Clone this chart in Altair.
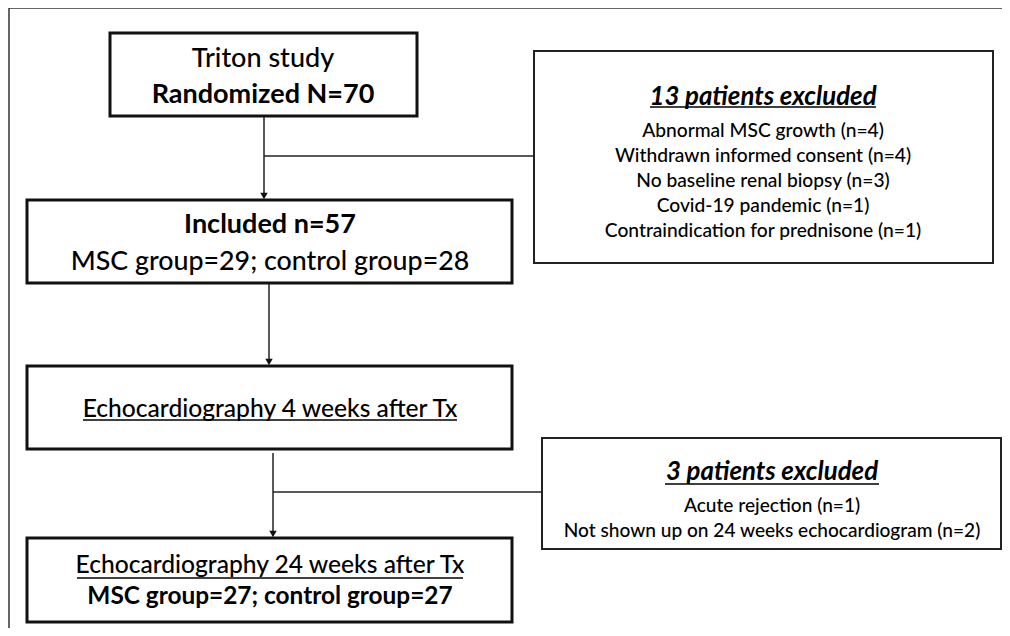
import altair as alt
import pandas as pd

# ---- boxes (pixel layout of the flow diagram) ----
box_names = ["randomized", "included", "echo4", "echo24", "excl13", "excl3"]
box_x1 = [110, 27, 27, 27, 534, 542]
box_x2 = [417, 512, 512, 512, 993, 1001]
box_y1 = [33, 200, 366, 538, 51, 438]
box_y2 = [116, 283, 449, 622, 263, 549]
box_kind = ["main", "main", "main", "main", "side", "side"]

# ---- connectors ----
line_x1 = [264, 264, 269, 273, 273]
line_x2 = [264, 534, 269, 273, 542]
line_y1 = [116, 156, 283, 453, 492]
line_y2 = [196, 156, 362, 534, 492]
arrow_x = [264, 269, 273]
arrow_y = [196, 362, 534]

# ---- frame ----
frame_x1 = [9, 9]
frame_x2 = [1002, 9]
frame_y1 = [8, 8]
frame_y2 = [8, 628]

# ---- texts ----
texts = [
    "Triton study",
    "Randomized N=70",
    "Included n=57",
    "MSC group=29; control group=28",
    "13 patients excluded",
    "Abnormal MSC growth (n=4)",
    "Withdrawn informed consent (n=4)",
    "No baseline renal biopsy (n=3)",
    "Covid-19 pandemic (n=1)",
    "Contraindication for prednisone (n=1)",
    "Echocardiography 4 weeks after Tx",
    "3 patients excluded",
    "Acute rejection (n=1)",
    "Not shown up on 24 weeks echocardiogram (n=2)",
    "Echocardiography 24 weeks after Tx",
    "MSC group=27; control group=27",
]
text_x = [263, 263, 270, 270, 763, 763, 763, 763, 763, 763, 270, 772, 772, 772, 270, 270]
text_y = [67, 103, 233, 270, 105, 137, 162, 187, 212, 237, 417, 480, 512, 537, 573, 604]
text_size = [27, 27, 27, 26.8, 25.8, 19.2, 19.2, 19.2, 19.2, 19.2, 24.6, 25.8, 19.1, 19.1, 24.6, 24.4]
text_style = ["reg", "bold", "bold", "reg", "title", "reg", "reg", "reg",
              "reg", "reg", "reg", "title", "reg", "reg", "reg", "bold"]

# ---- underlines ----
ul_x1 = [650, 665, 83, 77]
ul_x2 = [876, 879, 457, 463]
ul_y = [107, 484, 420, 578]

boxes = pd.DataFrame({"name": box_names, "x1": box_x1, "x2": box_x2,
                      "y1": box_y1, "y2": box_y2, "kind": box_kind})
lines = pd.DataFrame({"x1": line_x1, "x2": line_x2, "y1": line_y1, "y2": line_y2})
arrows = pd.DataFrame({"x": arrow_x, "y": arrow_y})
frame = pd.DataFrame({"x1": frame_x1, "x2": frame_x2, "y1": frame_y1, "y2": frame_y2})
tdf = pd.DataFrame({"text": texts, "x": text_x, "y": text_y,
                    "size": text_size, "style": text_style})
uls = pd.DataFrame({"x1": ul_x1, "x2": ul_x2, "y": ul_y})

W, H = 994, 620
xs = alt.Scale(domain=[8, 1002], nice=False, zero=False)
ys = alt.Scale(domain=[8, 628], nice=False, zero=False, reverse=True)
X = lambda f: alt.X(f, type="quantitative", scale=xs, axis=None)
Y = lambda f: alt.Y(f, type="quantitative", scale=ys, axis=None)

FONT = "Lato"

frame_l = alt.Chart(frame).mark_rule(color="#333333", strokeWidth=1.5).encode(
    x=X("x1"), x2="x2", y=Y("y1"), y2="y2")

main_boxes = alt.Chart(boxes).transform_filter(alt.datum.kind == "main").mark_rect(
    fill="white", stroke="#111111", strokeWidth=3).encode(
    x=X("x1"), x2="x2", y=Y("y1"), y2="y2")
side_boxes = alt.Chart(boxes).transform_filter(alt.datum.kind == "side").mark_rect(
    fill="white", stroke="#222222", strokeWidth=2).encode(
    x=X("x1"), x2="x2", y=Y("y1"), y2="y2")

conn = alt.Chart(lines).mark_rule(color="#222222", strokeWidth=1.5).encode(
    x=X("x1"), x2="x2", y=Y("y1"), y2="y2")

heads = alt.Chart(arrows).mark_point(shape="triangle-down", filled=True, size=55,
                                     color="#111111", opacity=1).encode(
    x=X("x"), y=Y("y"))

def text_layer(style, weight="normal", fstyle="normal"):
    return alt.Chart(tdf).transform_filter(alt.datum.style == style).mark_text(
        font=FONT, fontWeight=weight, fontStyle=fstyle,
        align="center", baseline="alphabetic", color="#000000").encode(
        x=X("x"), y=Y("y"), text="text:N",
        size=alt.Size("size:Q", scale=None, legend=None))

t_reg = text_layer("reg", 500)
t_bold = text_layer("bold", "bold")
t_title = text_layer("title", "bold", "italic")

underl = alt.Chart(uls).mark_rule(color="#000000", strokeWidth=1.6).encode(
    x=X("x1"), x2="x2", y=Y("y"))

chart = alt.layer(frame_l, conn, main_boxes, side_boxes, heads,
                  t_reg, t_bold, t_title, underl).properties(
    width=W, height=H, padding=0,
    autosize=alt.AutoSizeParams(type="none"),
    background="white",
).configure_view(stroke=None)

chart.save("out.html", embed_options={"renderer": "svg", "actions": False})
